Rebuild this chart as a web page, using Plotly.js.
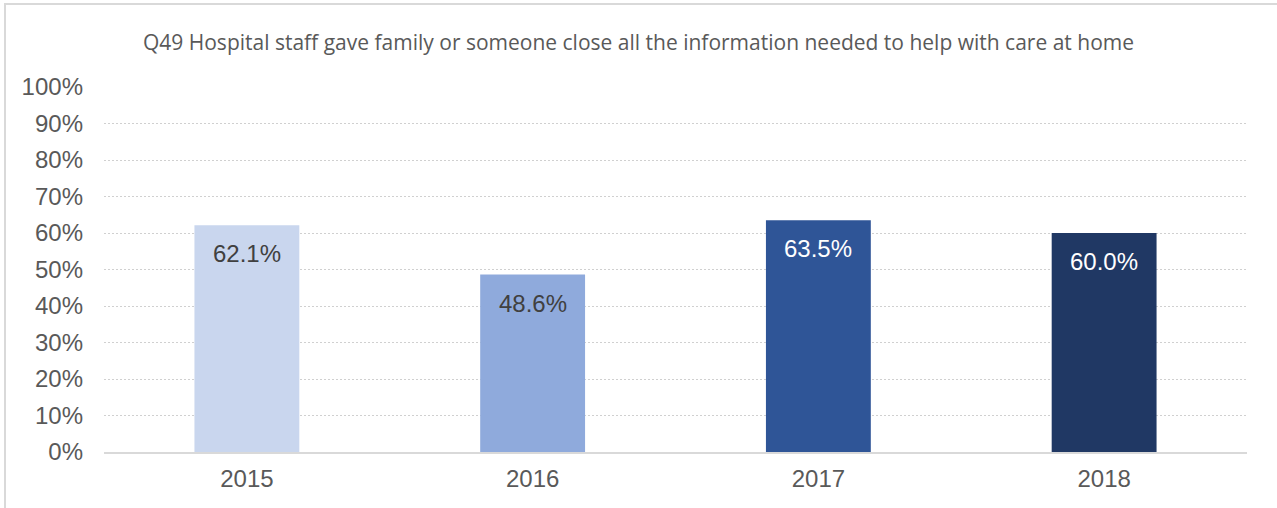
<!DOCTYPE html>
<html>
<head>
<meta charset="utf-8">
<script src="https://cdn.plot.ly/plotly-3.0.1.min.js"></script>
<style>
html,body{margin:0;padding:0;background:#fff;}
#wrap{position:relative;width:1277px;height:508px;overflow:hidden;}
#chart{position:absolute;left:0;top:0;width:1277px;height:508px;}
#frame{position:absolute;left:4px;top:3px;width:1300px;height:600px;border-left:2px solid #D9D9D9;border-top:2px solid #D9D9D9;pointer-events:none;}
</style>
</head>
<body>
<div id="wrap"><div id="chart"></div><div id="frame"></div></div>
<script>
const categories = ["2015", "2016", "2017", "2018"];
const values = [0.621, 0.486, 0.635, 0.600];
const valueLabels = ["62.1%", "48.6%", "63.5%", "60.0%"];
const barColors = ["#C9D6EE", "#8FAADC", "#2F5597", "#203864"];
const labelColors = ["#404040", "#404040", "#FFFFFF", "#FFFFFF"];
const tickVals = [0, 0.1, 0.2, 0.3, 0.4, 0.5, 0.6, 0.7, 0.8, 0.9, 1.0];
const tickLabels = ["0%", "10%", "20%", "30%", "40%", "50%", "60%", "70%", "80%", "90%", "100%"];
const chartTitle = "Q49 Hospital staff gave family or someone close all the information needed to help with care at home";

const trace = {
  type: "bar",
  x: categories,
  y: values,
  marker: {color: barColors},
  hoverinfo: "none",
  textposition: "none"
};

// annotation x given as category index (category axes treat numeric-like strings as indices)
const annotations = categories.map((c, i) => ({
  x: i, y: values[i], xref: "x", yref: "y",
  text: valueLabels[i], showarrow: false,
  yanchor: "top", yshift: -13,
  font: {family: "Liberation Sans, Arial, sans-serif", size: 24, color: labelColors[i]}
}));

const layout = {
  width: 1277, height: 508,
  margin: {l: 104, r: 30, t: 87, b: 56},
  paper_bgcolor: "rgba(0,0,0,0)",
  plot_bgcolor: "rgba(0,0,0,0)",
  bargap: 0.633,
  showlegend: false,
  title: {
    text: chartTitle,
    x: 0.5, xanchor: "center", xref: "container",
    y: 0.917, yanchor: "middle", yref: "container",
    font: {family: "Open Sans, sans-serif", size: 21, color: "#595959"}
  },
  xaxis: {
    type: "category",
    range: [-0.5, categories.length - 0.5],
    showgrid: false,
    showline: true, linecolor: "#D9D9D9", linewidth: 2,
    ticks: "",
    tickfont: {family: "Liberation Sans, Arial, sans-serif", size: 24, color: "#595959"},
    ticklabelstandoff: 4
  },
  yaxis: {
    range: [0, 1],
    tickvals: tickVals,
    ticktext: tickLabels,
    showgrid: true, gridcolor: "#D0D0D0", gridwidth: 1, griddash: "2px,2px",
    zeroline: false, showline: false, ticks: "",
    tickfont: {family: "Liberation Sans, Arial, sans-serif", size: 24, color: "#595959"},
    ticklabelstandoff: 20
  },
  annotations: annotations
};

Plotly.newPlot("chart", [trace], layout, {displayModeBar: false, staticPlot: true});
</script>
</body>
</html>
